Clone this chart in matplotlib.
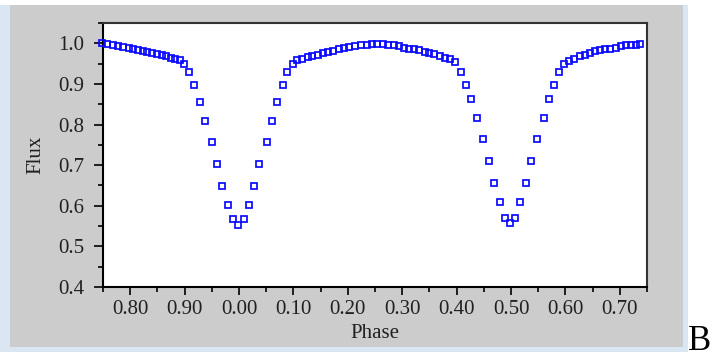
import matplotlib
matplotlib.use("Agg")
import matplotlib.pyplot as plt
from matplotlib.patches import Rectangle
from matplotlib.ticker import MultipleLocator, FuncFormatter

# phase (unwrapped, 0.75 .. 1.75) and flux
phase = [
    0.748, 0.758, 0.769, 0.778, 0.787, 0.797, 0.806, 0.814, 0.823, 0.831,
    0.840, 0.849, 0.858, 0.866, 0.875, 0.882, 0.892, 0.899,
    0.908, 0.918, 0.928, 0.937, 0.950, 0.960, 0.969, 0.979, 0.989, 0.999,
    1.009, 1.018, 1.028, 1.037, 1.051, 1.060, 1.069, 1.080, 1.089, 1.099,
    1.107, 1.116, 1.126, 1.135, 1.146, 1.155, 1.164, 1.172, 1.183, 1.193,
    1.203, 1.213, 1.224, 1.235, 1.244, 1.254, 1.265, 1.274, 1.284, 1.294,
    1.303, 1.313, 1.322, 1.331, 1.341, 1.350, 1.359, 1.370, 1.379, 1.388,
    1.397,
    1.408, 1.417, 1.427, 1.437, 1.449, 1.459, 1.469, 1.479, 1.489, 1.498,
    1.508, 1.517, 1.527, 1.537, 1.548, 1.560, 1.570, 1.579, 1.588, 1.597,
    1.607, 1.616, 1.626, 1.636, 1.645, 1.654, 1.664, 1.673, 1.682, 1.693,
    1.702, 1.711, 1.720, 1.729, 1.738,
]
flux = [
    1.000, 0.998, 0.995, 0.993, 0.991, 0.989, 0.987, 0.984, 0.981, 0.978,
    0.976, 0.973, 0.970, 0.968, 0.965, 0.962, 0.960, 0.950,
    0.929, 0.898, 0.855, 0.809, 0.757, 0.702, 0.649, 0.603, 0.567, 0.552,
    0.567, 0.603, 0.649, 0.702, 0.757, 0.809, 0.855, 0.898, 0.929, 0.949,
    0.958, 0.962, 0.966, 0.969, 0.972, 0.975, 0.978, 0.982, 0.986, 0.989,
    0.991, 0.993, 0.995, 0.997, 0.999, 0.999, 0.998, 0.996, 0.995, 0.993,
    0.989, 0.987, 0.985, 0.983, 0.979, 0.976, 0.973, 0.969, 0.965, 0.961,
    0.953,
    0.929, 0.898, 0.862, 0.815, 0.765, 0.711, 0.656, 0.609, 0.571, 0.558,
    0.571, 0.609, 0.656, 0.711, 0.765, 0.816, 0.862, 0.898, 0.929, 0.948,
    0.956, 0.962, 0.968, 0.972, 0.976, 0.980, 0.983, 0.985, 0.987, 0.989,
    0.993, 0.995, 0.996, 0.997, 0.999,
]

plt.rcParams['font.family'] = ['Liberation Serif', 'DejaVu Serif']

fig = plt.figure(figsize=(7.12, 3.58), dpi=100)
fig.patch.set_facecolor('white')

# light blue frame and gray panel behind the plot
fig.patches.append(Rectangle((0.0, 0.0168), 0.966, 0.969, transform=fig.transFigure,
                             facecolor='#dae6f2', edgecolor='none', zorder=-10))
fig.patches.append(Rectangle((0.014, 0.0307), 0.945, 0.955, transform=fig.transFigure,
                             facecolor='#cccccc', edgecolor='none', zorder=-9))

ax = fig.add_axes([0.1447, 0.1983, 0.764, 0.7375])
ax.set_facecolor('white')
ax.plot(phase, flux, linestyle='none', marker='s', markersize=4.5,
        markerfacecolor='none', markeredgecolor='#0a0aff', markeredgewidth=1.25,
        clip_on=False, zorder=3)

ax.set_xlim(0.75, 1.75)
ax.set_ylim(0.4, 1.05)
ax.xaxis.set_major_locator(MultipleLocator(0.1))
ax.xaxis.set_minor_locator(MultipleLocator(0.05))
ax.yaxis.set_major_locator(MultipleLocator(0.1))
ax.yaxis.set_minor_locator(MultipleLocator(0.05))
ax.xaxis.set_major_formatter(FuncFormatter(lambda v, p: f"{round(v, 2) % 1:.2f}"))
ax.yaxis.set_major_formatter(FuncFormatter(lambda v, p: f"{v:.1f}"))

ax.tick_params(which='both', direction='out', top=False, right=False,
               color='black', width=1.2, labelsize=15, labelcolor='#202020')
ax.tick_params(axis='y', which='major', length=6.5, pad=7)
ax.tick_params(axis='y', which='minor', length=3.5)
ax.tick_params(axis='x', which='major', length=6, pad=3)
ax.tick_params(axis='x', which='minor', length=3.5)

for s in ['left', 'bottom']:
    ax.spines[s].set_linewidth(1.5)
    ax.spines[s].set_color('black')
for s in ['top', 'right']:
    ax.spines[s].set_linewidth(1.5)
    ax.spines[s].set_color('#333333')

ax.set_xlabel("Phase", fontsize=15, color='#202020', labelpad=4)
ax.set_ylabel("Flux", fontsize=15, color='#202020', labelpad=9)

fig.text(0.966, 0.0, "B", fontsize=25, ha='left', va='bottom', color='black')

fig.savefig("out.png", dpi=100)
